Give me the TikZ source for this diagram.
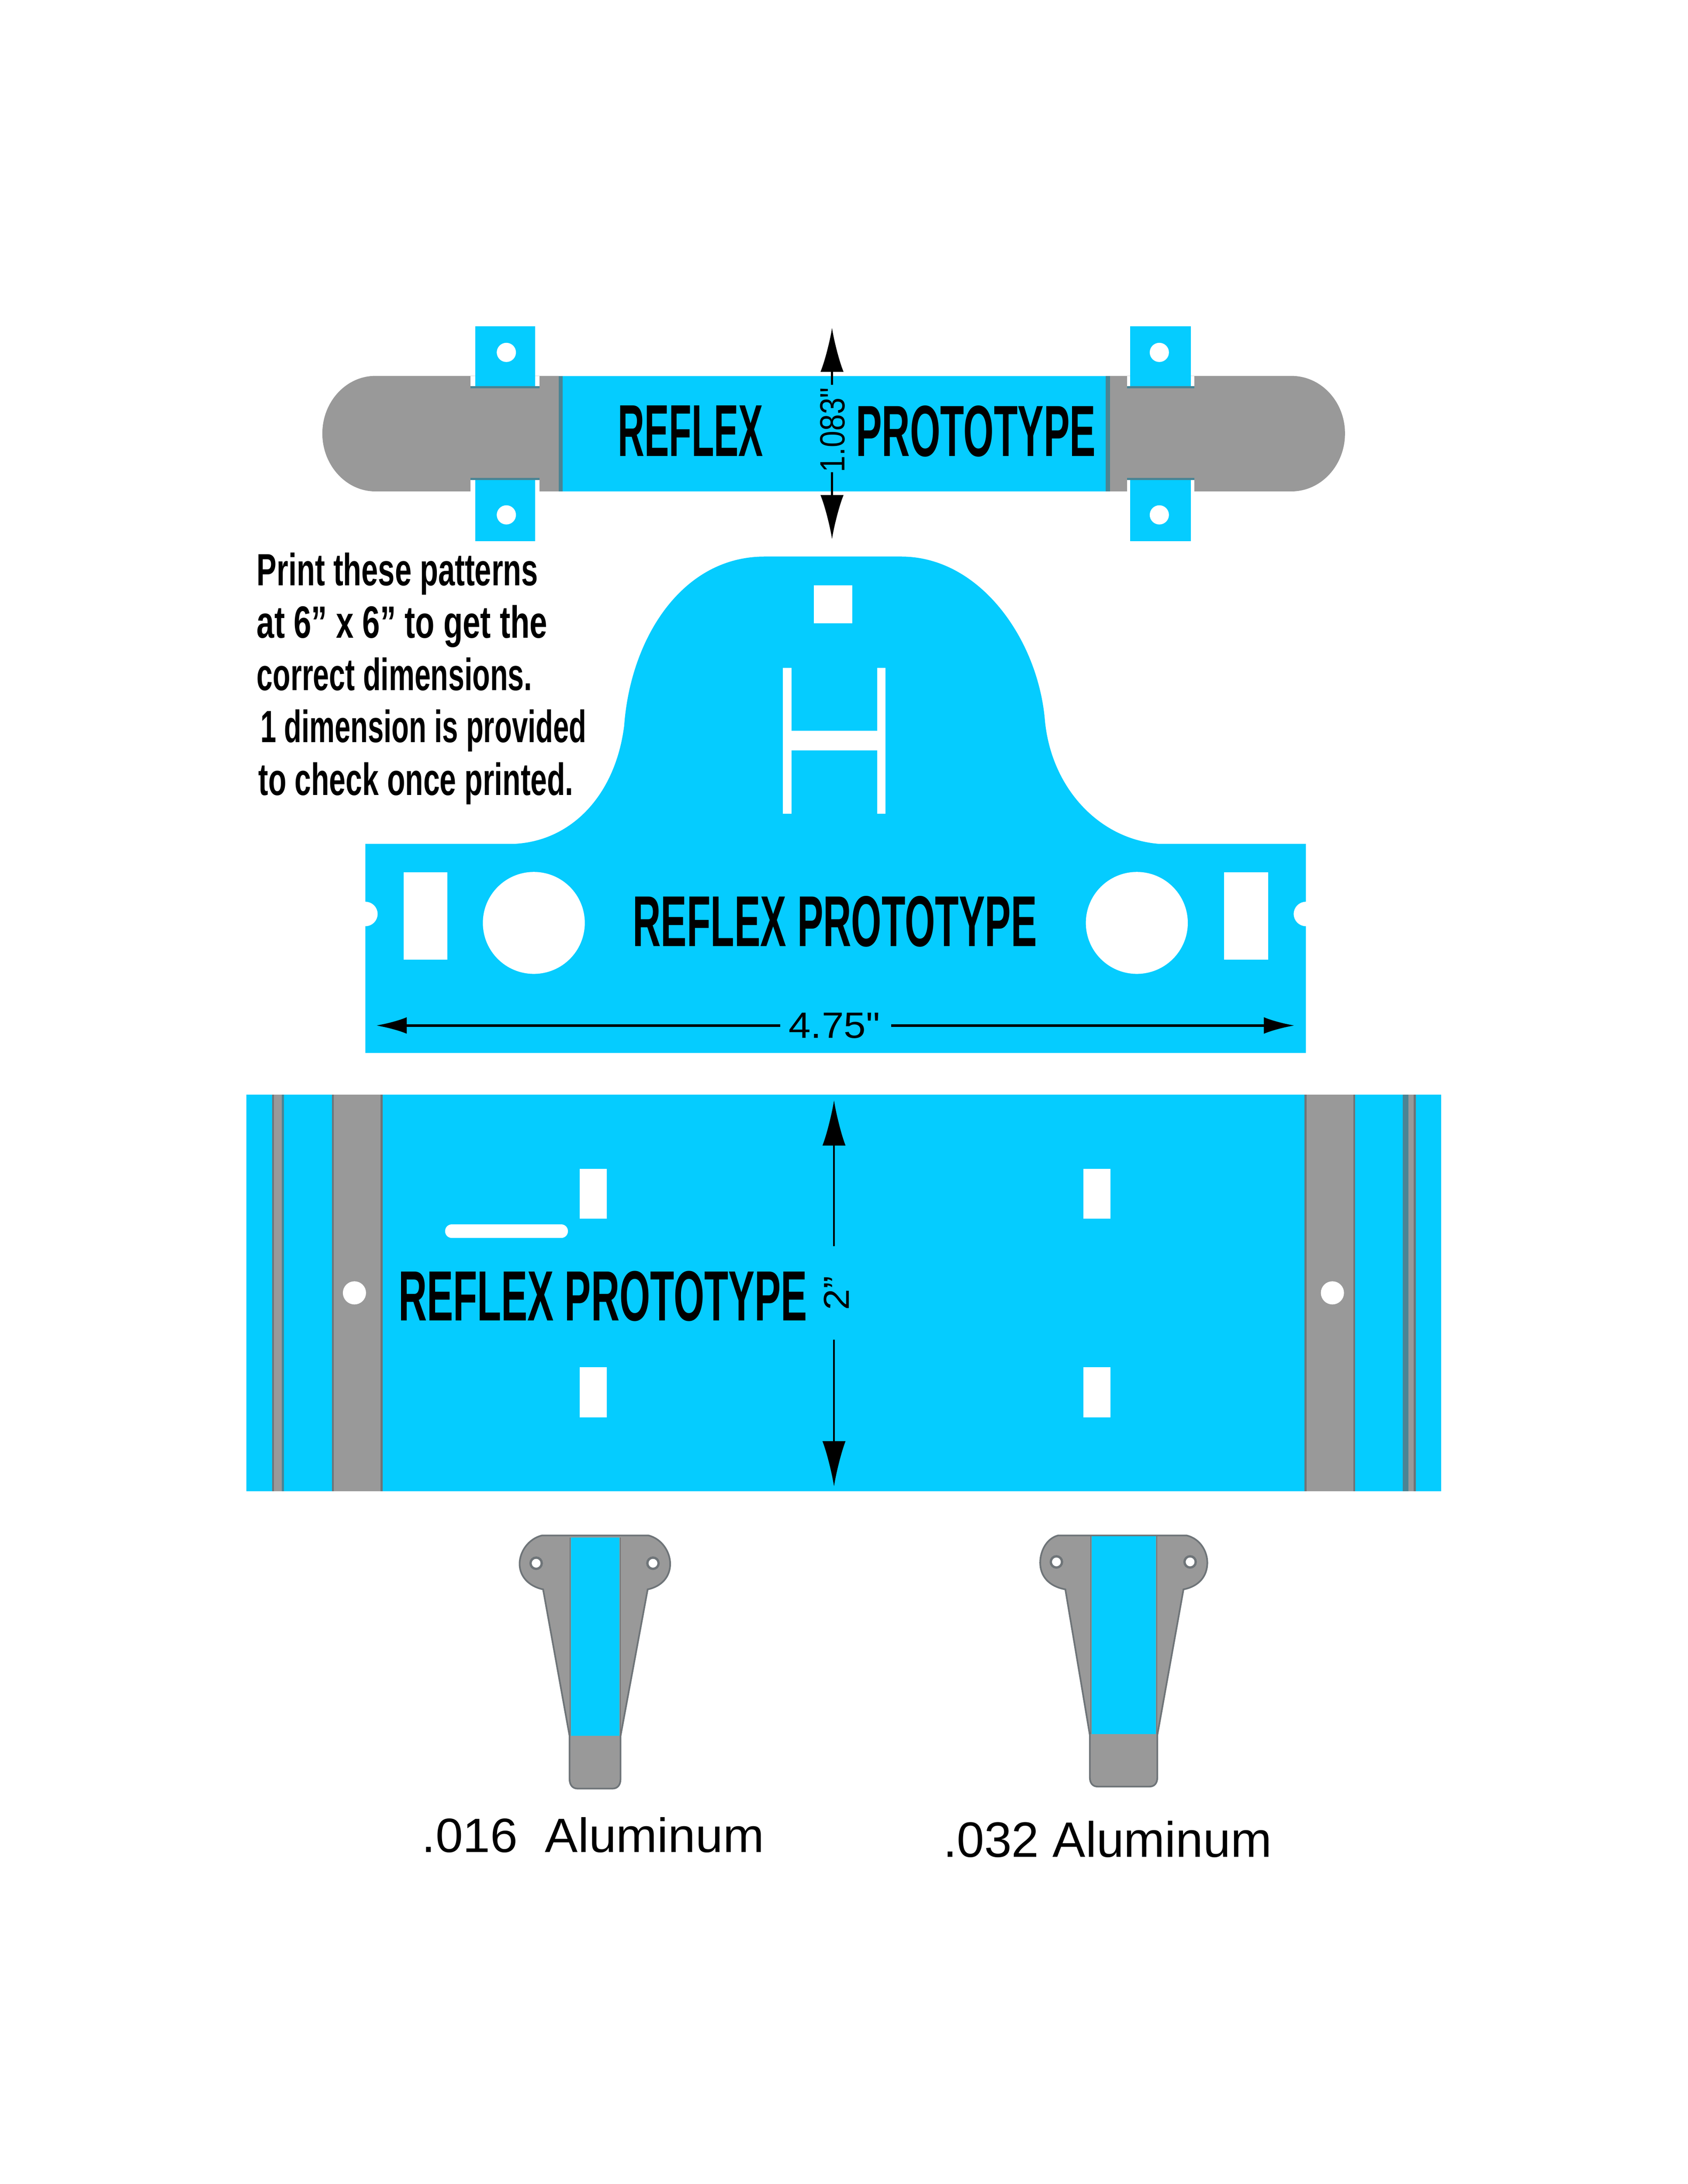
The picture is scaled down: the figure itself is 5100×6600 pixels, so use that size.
\documentclass[tikz,border=0pt]{standalone}
\usepackage{fontspec}
\usepackage{graphicx}
\setmainfont{Liberation Sans}
\newfontfamily\plainf{Liberation Sans}
\usetikzlibrary{arrows.meta}
\definecolor{blu}{HTML}{05CCFF}
\definecolor{gry}{HTML}{999999}
\definecolor{edg}{HTML}{6E7478}
\definecolor{teal}{HTML}{4A8494}
\newcommand{\bt}[3]{\resizebox{#1pt}{#2pt}{\bfseries #3}}
\newcommand{\rt}[3]{\resizebox{#1pt}{#2pt}{#3}}
\tikzset{
  lbl/.style={inner sep=0pt,outer sep=0pt,anchor=base west,text=black},
  dimv/.style={line width=0.7pt,draw=black,-{Latex[length=13.3pt,width=7pt]}},
  dimh/.style={line width=0.8pt,draw=black,-{Latex[length=9.3pt,width=5pt]}},
  dimv2/.style={line width=0.6pt,draw=black,-{Latex[length=13.7pt,width=7pt]}},
  grayedge/.style={fill=gry,draw=edg,line width=0.5pt},
  tab/.style={fill=blu},
  hole/.style={fill=white}
}
\begin{document}
\begin{tikzpicture}[x=0.1pt,y=-0.1pt]
\useasboundingbox (0,0) rectangle (5100,6600);
% --- top strip ---
\fill[gry] (1134,1136) .. controls (1046,1136) and (974,1214) .. (974,1310)
  .. controls (974,1406) and (1046,1485) .. (1134,1485) -- (1688,1485) -- (1688,1136) -- cycle;
\fill[gry] (3902,1136) .. controls (3992,1136) and (4064,1214) .. (4064,1310)
  .. controls (4064,1406) and (3992,1485) .. (3902,1485) -- (3341,1485) -- (3341,1136) -- cycle;
\fill[white] (1422,1136) rectangle (1436,1172);
\fill[white] (1617,1136) rectangle (1630,1172);
\fill[white] (1422,1449) rectangle (1436,1485);
\fill[white] (1617,1449) rectangle (1630,1485);
\fill[white] (3405,1136) rectangle (3415,1172);
\fill[white] (3598,1136) rectangle (3609,1172);
\fill[white] (3405,1449) rectangle (3415,1485);
\fill[white] (3598,1449) rectangle (3609,1485);
\fill[tab] (1688,1136) rectangle (3341,1485);
\fill[teal] (1688,1136) rectangle (1700,1485);
\fill[teal] (3341,1136) rectangle (3354,1485);
\fill[tab] (1436,986) rectangle (1617,1167);
\fill[tab] (3415,986) rectangle (3598,1167);
\fill[tab] (1436,1451) rectangle (1617,1635);
\fill[tab] (3415,1451) rectangle (3598,1635);
\fill[teal] (1422,1167) rectangle (1630,1174);
\fill[teal] (3405,1167) rectangle (3609,1174);
\fill[teal] (1422,1444) rectangle (1630,1451);
\fill[teal] (3405,1444) rectangle (3609,1451);
\fill[hole] (1530,1065) circle[radius=29];
\fill[hole] (3503,1065) circle[radius=29];
\fill[hole] (1530,1556) circle[radius=29];
\fill[hole] (3503,1556) circle[radius=29];
\node[lbl] (t1a) at (1867,1379) {\bt{43.9}{15.3}{REFLEX}};
\node[lbl] (t1b) at (2586,1379) {\bt{72.5}{15.3}{PROTOTYPE}};
\node[lbl,rotate=90] (t1c) at (2552,1427) {\rt{25.6}{7.4}{\plainf 1.083"}};
\coordinate (d1a) at (2514,1163);
\coordinate (d1b) at (2514,991);
\coordinate (d1c) at (2514,1427);
\coordinate (d1d) at (2514,1629);
\draw[dimv] (d1a) -- (d1b);
\draw[dimv] (d1c) -- (d1d);
% --- bell plate ---
\fill[blu] (1104,2550) -- (1557,2550) .. controls (1730,2540) and (1860,2400) .. (1886,2193)
  .. controls (1905,1930) and (2060,1682) .. (2310,1682) -- (2723,1682)
  .. controls (2960,1682) and (3135,1930) .. (3157,2174)
  .. controls (3175,2380) and (3320,2535) .. (3500,2550) -- (3946,2550) -- (3946,3182) -- (1104,3182) -- cycle;
\fill[hole] (2459,1769) rectangle (2575,1884);
\fill[hole] (2366,2018) rectangle (2392,2459);
\fill[hole] (2650,2018) rectangle (2675,2459);
\fill[hole] (2392,2209) rectangle (2650,2268);
\fill[hole] (1219,2636) rectangle (1352,2900);
\fill[hole] (3699,2636) rectangle (3832,2900);
\fill[hole] (1613,2789) circle[radius=154];
\fill[hole] (3435,2789) circle[radius=154];
\fill[hole] (1104,2762) circle[radius=37];
\fill[hole] (3946,2762) circle[radius=37];
\node[lbl] (t2a) at (1912,2860) {\bt{122.1}{15.2}{REFLEX PROTOTYPE}};
\node[lbl] (t2b) at (2383,3137) {\rt{27.6}{7.6}{\plainf 4.75"}};
\coordinate (d2a) at (2358,3099);
\coordinate (d2b) at (1136,3099);
\coordinate (d2c) at (2693,3099);
\coordinate (d2d) at (3912,3099);
\draw[dimh] (d2a) -- (d2b);
\draw[dimh] (d2c) -- (d2d);
% --- notes ---
\node[lbl] (n1) at (776,1769) {\bt{85.0}{9.9}{Print these patterns}};
\node[lbl] (n2) at (776,1928) {\bt{87.8}{9.9}{at 6” x 6” to get the}};
\node[lbl] (n3) at (776,2086) {\bt{83.2}{9.9}{correct dimensions.}};
\node[lbl] (n4) at (787,2244) {\bt{98.5}{9.9}{1 dimension is provided}};
\node[lbl] (n5) at (781,2403) {\bt{95.2}{9.9}{to check once printed.}};
% --- wide plate ---
\fill[blu] (744,3308) rectangle (4355,4506);
\fill[gry] (822,3308) rectangle (858,4506);
\fill[teal] (852,3308) rectangle (858,4506);
\fill[edg] (822,3308) rectangle (827,4506);
\fill[gry] (1003,3308) rectangle (1156,4506);
\fill[edg] (1003,3308) rectangle (1009,4506);
\fill[edg] (1150,3308) rectangle (1156,4506);
\fill[gry] (3942,3308) rectangle (4095,4506);
\fill[edg] (3942,3308) rectangle (3948,4506);
\fill[edg] (4089,3308) rectangle (4095,4506);
\fill[gry] (4238,3308) rectangle (4278,4506);
\fill[teal] (4238,3308) rectangle (4255,4506);
\fill[edg] (4272,3308) rectangle (4278,4506);
\fill[hole] (1071,3907) circle[radius=35];
\fill[hole] (4026,3907) circle[radius=35];
\fill[hole] (1752,3532) rectangle (1834,3683);
\fill[hole] (1752,4132) rectangle (1834,4283);
\fill[hole] (3274,3532) rectangle (3356,3683);
\fill[hole] (3274,4132) rectangle (3356,4283);
\fill[hole,rounded corners=2pt] (1345,3700) rectangle (1716,3741);
\node[lbl] (t3a) at (1204,3991) {\bt{123.5}{15.0}{REFLEX PROTOTYPE}};
\node[lbl,rotate=90] (t3b) at (2565,3959) {\rt{10.2}{7.6}{2"}};
\coordinate (d3a) at (2520,3766);
\coordinate (d3b) at (2520,3325);
\coordinate (d3c) at (2520,4049);
\coordinate (d3d) at (2520,4492);
\draw[dimv2] (d3a) -- (d3b);
\draw[dimv2] (d3c) -- (d3d);
% --- left bracket ---
\fill[grayedge] (1638,4640) -- (1959,4640) .. controls (2000,4650) and (2025,4690) .. (2025,4726)
  .. controls (2025,4764) and (2000,4794) .. (1957,4803) -- (1875,5246) -- (1875,5376)
  .. controls (1875,5394) and (1866,5405) .. (1851,5405) -- (1745,5405)
  .. controls (1730,5405) and (1721,5394) .. (1721,5376) -- (1721,5246) -- (1641,4803)
  .. controls (1598,4794) and (1570,4764) .. (1570,4726)
  .. controls (1570,4690) and (1596,4650) .. (1638,4640) -- cycle;
\fill[blu] (1725,4647) rectangle (1872,5246);
\draw[edg,line width=0.3pt] (1723,4647) -- (1723,5246) (1874,4647) -- (1874,5246);
\fill[white,draw=edg,line width=0.7pt] (1620,4724) circle[radius=17];
\fill[white,draw=edg,line width=0.7pt] (1973,4724) circle[radius=17];
\node[lbl] (t4a) at (1275,5598) {\rt{103.4}{10.55}{.016\ \ Aluminum}};
% --- right bracket ---
\fill[grayedge] (3197,4640) -- (3585,4640) .. controls (3628,4650) and (3648,4690) .. (3648,4722)
  .. controls (3648,4764) and (3622,4794) .. (3576,4803) -- (3497,5243) -- (3497,5371)
  .. controls (3497,5389) and (3488,5399) .. (3473,5399) -- (3317,5399)
  .. controls (3302,5399) and (3293,5389) .. (3293,5371) -- (3293,5243) -- (3219,4803)
  .. controls (3170,4794) and (3143,4764) .. (3143,4722)
  .. controls (3143,4690) and (3160,4650) .. (3197,4640) -- cycle;
\fill[blu] (3298,4643) rectangle (3493,5240);
\draw[edg,line width=0.3pt] (3296,4643) -- (3296,5240) (3495,4643) -- (3495,5240);
\fill[white,draw=edg,line width=0.7pt] (3192,4720) circle[radius=17];
\fill[white,draw=edg,line width=0.7pt] (3596,4720) circle[radius=17];
\node[lbl] (t4b) at (2850,5612) {\rt{99.3}{10.9}{.032 Aluminum}};
\end{tikzpicture}
\end{document}
